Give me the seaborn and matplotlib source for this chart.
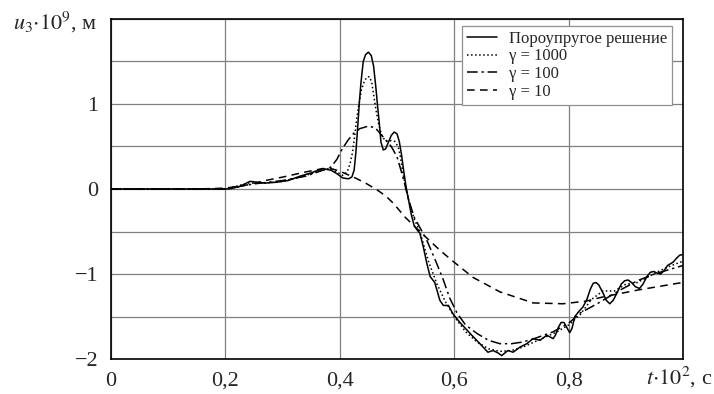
import numpy as np
import matplotlib
matplotlib.use("Agg")
import matplotlib.pyplot as plt
import seaborn as sns

# poroelastic solution
t_poro = [0, 0.1, 0.2, 0.21, 0.225, 0.243, 0.255, 0.27, 0.29, 0.31, 0.33, 0.35, 0.37, 0.385,
          0.395, 0.405, 0.415, 0.421, 0.425, 0.428, 0.431, 0.434, 0.437, 0.441, 0.445, 0.45,
          0.455, 0.459, 0.463, 0.466, 0.469, 0.472, 0.476, 0.48, 0.485, 0.49, 0.495, 0.5,
          0.504, 0.508, 0.512, 0.516, 0.52, 0.525, 0.53, 0.535, 0.54, 0.546, 0.552, 0.558,
          0.566, 0.575, 0.581, 0.59, 0.598, 0.61, 0.628, 0.645, 0.659, 0.668, 0.677, 0.683,
          0.694, 0.703, 0.715, 0.727, 0.738, 0.75, 0.762, 0.773, 0.777, 0.782, 0.787, 0.792,
          0.797, 0.802, 0.806, 0.811, 0.818, 0.825, 0.832, 0.838, 0.843, 0.848, 0.853, 0.86,
          0.866, 0.872, 0.878, 0.885, 0.892, 0.898, 0.904, 0.91, 0.917, 0.924, 0.93, 0.937,
          0.943, 0.949, 0.955, 0.961, 0.967, 0.973, 0.978, 0.983, 0.988, 0.994, 1.0]
u_poro = [0, 0, 0, 0.005, 0.03, 0.09, 0.08, 0.07, 0.08, 0.1, 0.15, 0.19, 0.24, 0.22,
          0.18, 0.13, 0.12, 0.14, 0.22, 0.42, 0.7, 1.0, 1.25, 1.5, 1.58, 1.61,
          1.57, 1.45, 1.2, 0.98, 0.78, 0.55, 0.46, 0.47, 0.55, 0.63, 0.67, 0.65,
          0.56, 0.4, 0.2, 0.02, -0.12, -0.3, -0.43, -0.48, -0.52, -0.68, -0.87, -1.03,
          -1.1, -1.31, -1.37, -1.37, -1.47, -1.57, -1.7, -1.82, -1.92, -1.9, -1.93, -1.96,
          -1.9, -1.92, -1.86, -1.82, -1.76, -1.78, -1.72, -1.76, -1.72, -1.63, -1.57, -1.57,
          -1.63, -1.69, -1.64, -1.5, -1.44, -1.39, -1.3, -1.18, -1.11, -1.1, -1.13, -1.22,
          -1.31, -1.35, -1.31, -1.22, -1.12, -1.08, -1.07, -1.1, -1.15, -1.17, -1.12, -1.03,
          -0.98, -0.97, -0.99, -1.0, -0.96, -0.9, -0.88, -0.86, -0.82, -0.78, -0.77]

# gamma = 1000
t_g1000 = [0, 0.2, 0.24, 0.27, 0.3, 0.33, 0.36, 0.38, 0.395, 0.405, 0.413, 0.418, 0.422,
           0.426, 0.43, 0.434, 0.438, 0.443, 0.448, 0.452, 0.456, 0.46, 0.464, 0.468,
           0.473, 0.479, 0.485, 0.49, 0.496, 0.502, 0.506, 0.51, 0.515, 0.52, 0.53,
           0.54, 0.555, 0.57, 0.585, 0.6, 0.62, 0.64, 0.66, 0.68, 0.7, 0.72, 0.74, 0.76,
           0.78, 0.8, 0.82, 0.84, 0.86, 0.88, 0.9, 0.92, 0.94, 0.96, 0.98, 1.0]
u_g1000 = [0, 0, 0.07, 0.07, 0.09, 0.14, 0.2, 0.24, 0.2, 0.16, 0.2, 0.3, 0.42,
           0.62, 0.85, 1.02, 1.17, 1.27, 1.32, 1.32, 1.25, 1.07, 0.9, 0.76,
           0.64, 0.57, 0.56, 0.57, 0.56, 0.5, 0.38, 0.2, 0.03, -0.12, -0.35,
           -0.5, -0.85, -1.12, -1.33, -1.5, -1.68, -1.8, -1.88, -1.91, -1.9, -1.86, -1.8, -1.74,
           -1.68, -1.6, -1.48, -1.3, -1.2, -1.2, -1.12, -1.1, -1.03, -0.96, -0.9, -0.85]

# gamma = 100
t_g100 = [0, 0.2, 0.25, 0.3, 0.34, 0.37, 0.385, 0.395, 0.405, 0.415, 0.425, 0.435, 0.45,
          0.462, 0.476, 0.49, 0.5, 0.51, 0.52, 0.53, 0.552, 0.566, 0.58, 0.592, 0.605,
          0.62, 0.64, 0.66, 0.68, 0.7, 0.72, 0.74, 0.773, 0.8, 0.82, 0.85, 0.89, 0.92,
          0.95, 0.99, 1.0]
u_g100 = [0, 0, 0.06, 0.1, 0.15, 0.22, 0.26, 0.35, 0.48, 0.58, 0.66, 0.71, 0.74,
          0.72, 0.61, 0.5, 0.38, 0.15, -0.12, -0.33, -0.6, -0.82, -1.05, -1.28, -1.46,
          -1.6, -1.7, -1.78, -1.82, -1.82, -1.8, -1.76, -1.68, -1.58, -1.46, -1.35, -1.19, -1.08,
          -1.0, -0.92, -0.9]

# gamma = 10
t_g10 = [0, 0.15, 0.2, 0.24, 0.27, 0.3, 0.34, 0.37, 0.385, 0.4, 0.427, 0.445, 0.465,
         0.48, 0.494, 0.514, 0.54, 0.575, 0.596, 0.633, 0.68, 0.738, 0.79, 0.83, 0.86,
         0.92, 0.99, 1.0]
u_g10 = [0, 0, 0.01, 0.05, 0.1, 0.14, 0.2, 0.24, 0.24, 0.21, 0.13, 0.07, -0.01,
         -0.08, -0.17, -0.33, -0.5, -0.72, -0.84, -1.04, -1.21, -1.34, -1.35, -1.32, -1.27,
         -1.19, -1.11, -1.1]

labels = ["Пороупругое решение", "γ = 1000", "γ = 100", "γ = 10"]
x_ticks = [0, 0.2, 0.4, 0.6, 0.8, 1.0]
x_ticklabels = ["0", "0,2", "0,4", "0,6", "0,8", ""]
y_ticks = [-2, -1.5, -1, -0.5, 0, 0.5, 1, 1.5, 2]
y_ticklabels = ["−2", "", "−1", "", "0", "", "1", "", ""]

sns.set_style("white")
plt.rcParams["font.family"] = ["Liberation Serif", "DejaVu Serif"]
plt.rcParams["mathtext.fontset"] = "stix"

fig = plt.figure(figsize=(7.14, 3.94), dpi=100)
ax = fig.add_axes([0.1555, 0.0888, 0.801, 0.863])

styles = ["-", ":", (0, (7, 2.5, 1.5, 2.5)), (0, (5, 3.5))]
series = [(t_poro, u_poro), (t_g1000, u_g1000), (t_g100, u_g100), (t_g10, u_g10)]
for (t, u), lab, ls in zip(series, labels, styles):
    sns.lineplot(x=t, y=u, ax=ax, color="black", lw=1.1, linestyle=ls,
                 label=lab, sort=False, estimator=None)

ax.set_xlim(0, 1)
ax.set_ylim(-2, 2)
ax.set_xticks(x_ticks)
ax.set_xticklabels(x_ticklabels)
ax.set_yticks(y_ticks)
ax.set_yticklabels(y_ticklabels)
ax.tick_params(length=0, labelsize=16, pad=9)
ax.grid(True, color="#808080", lw=0.9)
for s in ax.spines.values():
    s.set_color("black")
    s.set_linewidth(1.2)
ax.set_xlabel("")
ax.set_ylabel("")

fig.text(0.018, 0.925, r"$u_3{\cdot}10^9$, м", fontsize=16, ha="left", va="baseline")
fig.text(0.997, 0.025, r"$t{\cdot}10^2$, с", fontsize=16, ha="right", va="baseline")

leg = ax.legend(loc="upper right", bbox_to_anchor=(0.981, 0.98), fontsize=12,
                frameon=True, fancybox=False, framealpha=1, edgecolor="#909090",
                handlelength=1.8, handletextpad=0.7, borderpad=0.3, labelspacing=0.1,
                borderaxespad=0)
leg.get_frame().set_linewidth(0.9)

fig.savefig("out.png", dpi=100)
